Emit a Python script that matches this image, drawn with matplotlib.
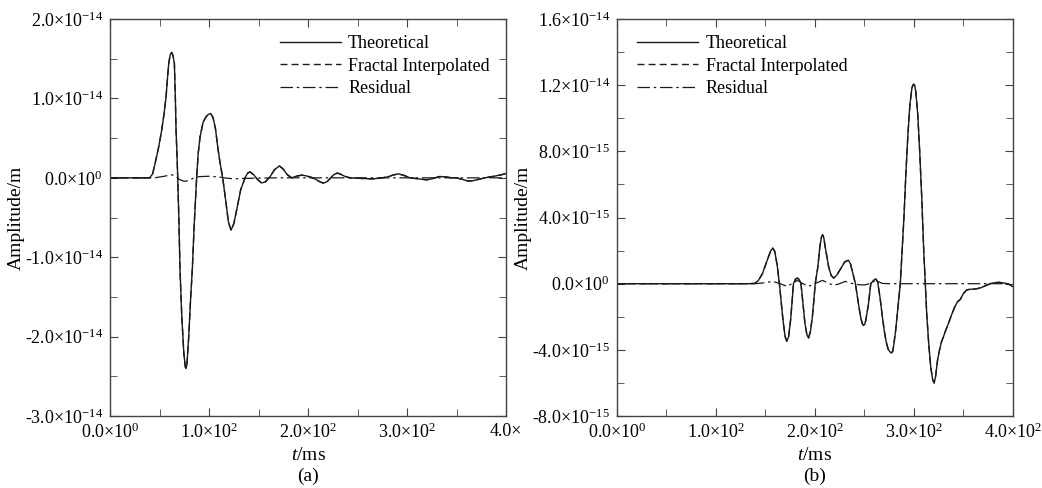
import numpy as np
import matplotlib
matplotlib.use('Agg')
import matplotlib.pyplot as plt

plt.rcParams['font.family'] = ['Liberation Serif', 'DejaVu Serif']
plt.rcParams['mathtext.fontset'] = 'custom'
plt.rcParams['mathtext.rm'] = 'Liberation Serif'
plt.rcParams['mathtext.it'] = 'Liberation Serif:italic'

# ---- panel (a): time in ms, amplitude in units of 1e-14 m ----
t_a = [0, 40, 43, 45.5, 49, 52.2, 54.5, 56.6, 58, 59.3, 60.8, 62.3, 63.6, 65, 66, 66.7,
       67.6, 68.4, 69.5, 70.7, 72.5, 74.5, 76, 76.8, 77.7, 79.5, 81.5, 83.1, 85, 87.5,
       89, 91, 94, 97, 99.5, 101.7, 104, 106.5, 108.8, 111, 113.8, 117, 119.5, 122.2,
       125, 128, 132, 136.4, 139, 141.4, 145, 149, 153, 157, 162, 166, 171, 175, 179,
       183.5, 188, 193.6, 198, 203.6, 208, 212, 215.5, 219, 223, 226, 229.6, 233, 237,
       242.4, 250, 258, 265, 272, 280, 286, 291, 296, 303, 310, 315, 320, 326, 333, 340,
       345, 350, 356, 362, 367, 372, 377, 383, 388, 394, 399, 400]
theo_a = [0, 0, 0.05, 0.18, 0.38, 0.6, 0.8, 1.02, 1.25, 1.44, 1.55, 1.58, 1.54, 1.44, 1.0,
          0.6, 0.3, 0, -0.5, -1.16, -1.75, -2.2, -2.38, -2.4, -2.35, -2.0, -1.5, -1.16,
          -0.6, 0, 0.3, 0.52, 0.7, 0.77, 0.8, 0.81, 0.76, 0.62, 0.39, 0.2, 0, -0.3, -0.55,
          -0.66, -0.58, -0.4, -0.15, 0, 0.06, 0.075, 0.04, -0.02, -0.065, -0.05, 0.02,
          0.1, 0.15, 0.11, 0.04, 0.0, 0.02, 0.034, 0.025, 0.005, -0.02, -0.05, -0.067,
          -0.05, 0.0, 0.04, 0.06, 0.045, 0.02, 0.0, -0.005, -0.01, -0.013, -0.005, 0.01,
          0.035, 0.05, 0.035, 0.0, -0.01, -0.018, -0.025, -0.01, 0.017, 0.01, 0.0, 0.0,
          -0.02, -0.042, -0.035, -0.02, -0.005, 0.01, 0.02, 0.035, 0.05, 0.055]
# the fractal-interpolated trace sits on top of the theoretical one
fractal_a = list(theo_a)
t_res_a = [0, 45, 50, 55, 62, 66, 70, 75, 79, 84, 90, 100, 110, 118, 125, 135, 150, 170, 400]
res_a = [0, 0, 0.01, 0.02, 0.04, 0.02, -0.02, -0.045, -0.035, -0.005, 0.015, 0.02, 0.01,
         -0.005, -0.012, -0.008, -0.003, 0, 0]

# ---- panel (b): time in ms, amplitude in units of 1e-15 m ----
t_b = [0, 134, 139.6, 143, 147, 150, 153, 155.5, 157.5, 159.5, 162, 164.2, 166, 168, 170,
       171.7, 173.5, 175.5, 177, 178.4, 180.5, 182.5, 184.5, 186, 188, 190, 192, 193.6,
       195.5, 197.5, 199, 200.4, 203, 205, 206.6, 207.8, 209, 210.5, 212, 214, 216.5, 219,
       222, 226, 230, 232, 234, 236, 238.5, 241, 244, 246.5, 248, 249.2, 250.5, 251.5,
       254, 256.5, 259.5, 261.7, 263.5, 266, 268, 270, 272, 274, 275.8, 277.2, 278.6,
       279.5, 281.5, 283.5, 286.3, 288, 290, 292, 294, 296, 298, 299, 300, 301, 302, 304,
       306, 308, 310, 311.6, 313, 315, 317, 319, 320.5, 322, 324, 326, 328, 330, 332,
       335, 338, 341, 344, 347, 350, 353, 356, 360, 364, 368, 374, 378, 382, 386, 390,
       394, 397, 400]
theo_b = [0, 0, 0.02, 0.2, 0.6, 1.1, 1.6, 2.0, 2.15, 1.95, 1.1, 0, -1.1, -2.3, -3.2, -3.48,
          -3.2, -2.2, -1.1, 0, 0.28, 0.34, 0.22, 0, -1.2, -2.4, -3.1, -3.28, -2.9, -2.0,
          -1.0, 0, 1.0, 2.2, 2.8, 2.96, 2.8, 2.2, 1.7, 1.0, 0.5, 0.34, 0.5, 0.9, 1.3, 1.38,
          1.41, 1.2, 0.6, 0, -1.2, -2.1, -2.42, -2.53, -2.45, -2.2, -1.3, 0, 0.22, 0.28,
          0.1, -0.9, -1.9, -2.8, -3.5, -3.95, -4.12, -4.18, -4.1, -3.8, -2.9, -1.7, 0, 1.8,
          4.0, 6.7, 9.0, 10.8, 11.8, 12.0, 12.06, 11.95, 11.6, 10.2, 7.9, 5.2, 2.0, 0,
          -1.8, -3.6, -5.0, -5.8, -6.0, -5.6, -4.6, -4.0, -3.5, -3.2, -2.85, -2.4, -1.9,
          -1.45, -1.1, -0.95, -0.6, -0.4, -0.34, -0.33, -0.3, -0.24, -0.08, 0.02, 0.06,
          0.08, 0.05, 0.0, -0.06, -0.18]
fractal_b = list(theo_b)
t_res_b = [0, 140, 150, 157.5, 165, 171.7, 177, 182.5, 188, 193.6, 200, 207.8, 213, 219,
           225, 230.7, 237, 244, 250, 255, 261.7, 268, 275, 400]
res_b = [0, 0, 0.06, 0.14, 0.0, -0.16, 0.0, 0.2, 0.0, -0.16, 0.0, 0.2, 0.05, -0.1, 0.0,
         0.14, 0.02, -0.06, -0.08, 0.0, 0.2, 0.02, 0, 0]

xticks = [0, 100, 200, 300, 400]
yticks_a = [-3e-14, -2e-14, -1e-14, 0, 1e-14, 2e-14]
yticks_b = [-8e-15, -4e-15, 0, 4e-15, 8e-15, 1.2e-14, 1.6e-14]


def sci(v):
    if v == 0:
        return '0.0\u00d710$^{0}$'
    e = int(np.floor(np.log10(abs(v)) + 1e-9))
    m = v / 10 ** e
    return '%.1f\u00d710$^{%d}$' % (m, e)


xlabels_b = [sci(v) for v in xticks]
xlabels_a = xlabels_b[:-1] + ['4.0\u00d7']

fig = plt.figure(figsize=(10.42, 4.88), dpi=100)
ax1 = fig.add_axes([0.1056, 0.1475, 0.380, 0.8135])
ax2 = fig.add_axes([0.592, 0.1475, 0.380, 0.8135])

lc = '#1a1a1a'
for ax, t, th, fr, tr, rs, sc in [(ax1, t_a, theo_a, fractal_a, t_res_a, res_a, 1e-14),
                                  (ax2, t_b, theo_b, fractal_b, t_res_b, res_b, 1e-15)]:
    ax.plot(t, np.array(th) * sc, color=lc, lw=1.0, label='Theoretical')
    ax.plot(t, np.array(fr) * sc, color=lc, lw=1.0, ls=(0, (5, 3)), label='Fractal Interpolated')
    ax.plot(tr, np.array(rs) * sc, color=lc, lw=0.9, ls=(0, (10, 3, 2, 3)), label='Residual')

ax1.set_ylim(-3e-14, 2e-14)
ax1.set_yticks(yticks_a, [sci(v) for v in yticks_a])
ax1.set_yticks(np.arange(-3e-14, 2.01e-14, 0.5e-14), minor=True)
ax1.set_xticks(xticks, xlabels_a)

ax2.set_ylim(-8e-15, 1.6e-14)
ax2.set_yticks(yticks_b, [sci(v) for v in yticks_b])
ax2.set_yticks(np.arange(-8e-15, 1.61e-14, 2e-15), minor=True)
ax2.set_xticks(xticks, xlabels_b)

for ax, tag in [(ax1, '(a)'), (ax2, '(b)')]:
    ax.set_xlim(0, 400)
    ax.set_xticks(np.arange(0, 401, 50), minor=True)
    ax.tick_params(which='both', direction='in', top=True, right=True, labelsize=13,
                   color='#444444', pad=5)
    ax.tick_params(which='major', length=6)
    ax.tick_params(which='minor', length=5)
    for s in ax.spines.values():
        s.set_color('#444444')
        s.set_linewidth(1.0)
    ax.set_ylabel('Amplitude/m', fontsize=14)
    ax.yaxis.set_label_coords(-0.215, 0.5)
    ax.set_xlabel(r'$\mathit{t}$/ms', fontsize=14, labelpad=3)
    pos = ax.get_position()
    fig.text(pos.x0 + pos.width / 2, 0.024, tag, ha='center', va='center', fontsize=14)

ax1.legend(loc='upper right', frameon=False, fontsize=13, handlelength=3.4,
           handletextpad=0.4, labelspacing=0.3, bbox_to_anchor=(1.0, 1.0))
ax2.legend(loc='upper left', frameon=False, fontsize=13, handlelength=3.4,
           handletextpad=0.4, labelspacing=0.3, bbox_to_anchor=(0.01, 1.0))

fig.savefig('out.png', dpi=100)
